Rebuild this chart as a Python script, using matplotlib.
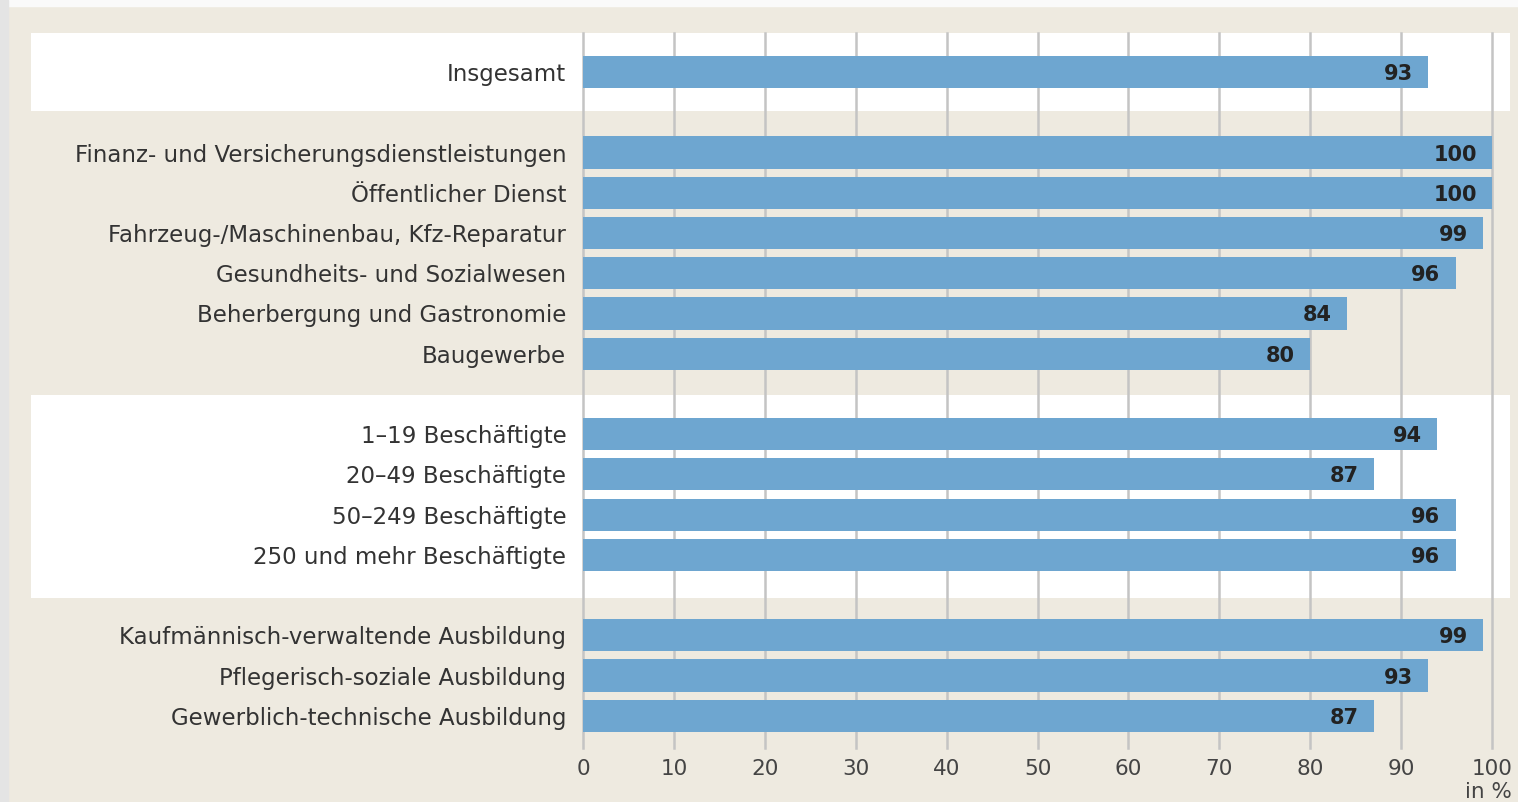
import matplotlib.pyplot as plt
from matplotlib.patches import Rectangle
from matplotlib.transforms import blended_transform_factory

# data
labels = [
    "Insgesamt",
    "Finanz- und Versicherungsdienstleistungen",
    "Öffentlicher Dienst",
    "Fahrzeug-/Maschinenbau, Kfz-Reparatur",
    "Gesundheits- und Sozialwesen",
    "Beherbergung und Gastronomie",
    "Baugewerbe",
    "1–19 Beschäftigte",
    "20–49 Beschäftigte",
    "50–249 Beschäftigte",
    "250 und mehr Beschäftigte",
    "Kaufmännisch-verwaltende Ausbildung",
    "Pflegerisch-soziale Ausbildung",
    "Gewerblich-technische Ausbildung",
]
values = [93, 100, 100, 99, 96, 84, 80, 94, 87, 96, 96, 99, 93, 87]
# row slots (gaps between groups)
rows = [0, 2, 3, 4, 5, 6, 7, 9, 10, 11, 12, 14, 15, 16]
xticks = list(range(0, 101, 10))

BG = "#eeeae0"
BAR = "#6ea6d0"
GRID = "#c4c4c4"
TXT = "#333333"

plt.rcParams['font.family'] = ['DejaVu Sans']

W, H = 1518, 802
fig = plt.figure(figsize=(W / 100, H / 100), dpi=100, facecolor=BG)

# frame bits around the beige panel
fig.patches.append(Rectangle((0, 1 - 6 / H), 1, 6 / H, transform=fig.transFigure,
                             color="#fafafa", zorder=-5))
fig.patches.append(Rectangle((0, 0), 8 / W, 1, transform=fig.transFigure,
                             color="#e4e4e4", zorder=-5))

ax = fig.add_axes([583 / W, 1 - 748 / H, (1492 - 583) / W, (748 - 33) / H])
ax.set_facecolor("none")
ax.set_xlim(0, 100)
ax.set_ylim(16.8, -0.97)

# white bands behind groups 1 and 3
tr = blended_transform_factory(fig.transFigure, ax.transData)
for y0, y1, x0 in [(-0.97, 0.97, 31), (8.03, 13.08, 31)]:
    ax.add_patch(Rectangle((x0 / W, y0), (1510 - x0) / W, y1 - y0, transform=tr,
                           facecolor="white", edgecolor="none", clip_on=False, zorder=0))

for x in xticks:
    ax.axvline(x, color=GRID, lw=1.8, zorder=1, clip_on=False)

ax.barh(rows, values, height=0.8, color=BAR, zorder=2)
for r, v in zip(rows, values):
    ax.annotate(str(v), (v, r), xytext=(-11, 0), textcoords="offset points",
                ha="right", va="center_baseline", fontsize=15, fontweight="bold",
                color="#222222")

ax.set_yticks(rows)
ax.set_yticklabels(labels, fontsize=16.5, color=TXT, va="center_baseline")
ax.set_xticks(xticks)
ax.set_xticklabels([str(x) for x in xticks], fontsize=15.5, color="#444444")
ax.tick_params(axis="y", length=0, pad=12)
ax.tick_params(axis="x", length=0, pad=8)
for s in ax.spines.values():
    s.set_visible(False)

fig.text(1512 / W, 1 - 792 / H, "in %", ha="right", va="center", fontsize=15.5, color="#444444")

fig.savefig("out.png", dpi=100, facecolor=BG)
